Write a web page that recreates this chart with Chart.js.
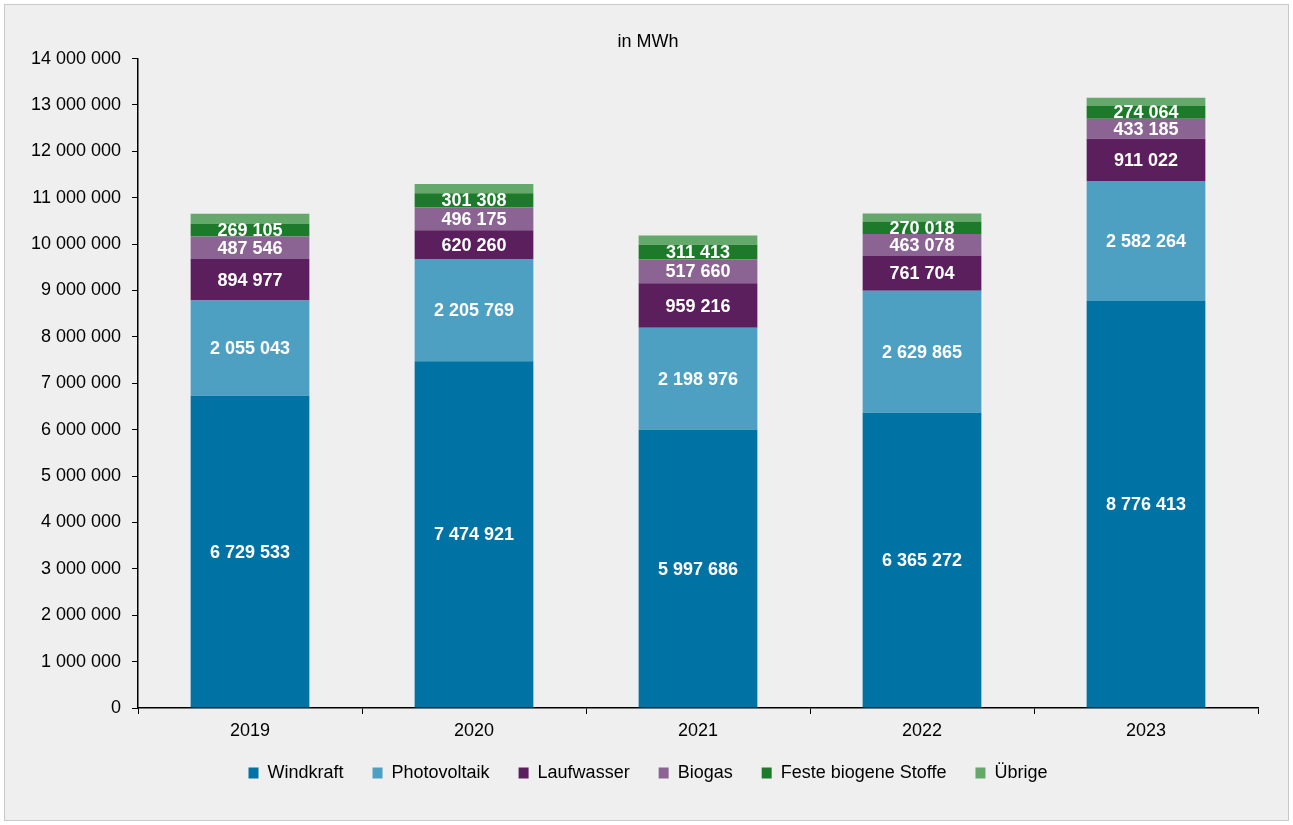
<!DOCTYPE html>
<html lang="de">
<head>
  <meta charset="UTF-8">
  <title>Stromerzeugung aus erneuerbaren Energien</title>
  <script src="https://cdn.jsdelivr.net/npm/chart.js"></script>
  <style>
    body {
      margin: 0;
      background: #ffffff;
      font-family: "Liberation Sans", Arial, sans-serif;
    }
    #rahmen {
      position: absolute;
      left: 4px;
      top: 4px;
      width: 1283px;
      height: 815px;
      background: #efefef;
      border: 1px solid #c9c9c9;
    }
  </style>
</head>
<body>

<div id="rahmen"><canvas id="grafik" width="1283" height="815"></canvas></div>

<script>
const jahre = ['2019', '2020', '2021', '2022', '2023'];
const windkraft = [6729533, 7474921, 5997686, 6365272, 8776413];
const photovoltaik = [2055043, 2205769, 2198976, 2629865, 2582264];
const laufwasser = [894977, 620260, 959216, 761704, 911022];
const biogas = [487546, 496175, 517660, 463078, 433185];
const festeBiogene = [269105, 301308, 311413, 270018, 274064];
const uebrige = [220000, 200000, 200000, 170000, 180000];

const schrift = '"Liberation Sans", Arial, sans-serif';

function zahl(v) {
  return String(Math.round(v)).replace(/\B(?=(\d{3})+(?!\d))/g, ' ');
}

// Werte in die Balken schreiben (weiss, fett)
const balkenWerte = {
  id: 'balkenWerte',
  afterDatasetsDraw(chart) {
    const ctx = chart.ctx;
    ctx.save();
    ctx.font = 'bold 18px ' + schrift;
    ctx.fillStyle = '#ffffff';
    ctx.textAlign = 'center';
    ctx.textBaseline = 'middle';
    chart.data.datasets.forEach((ds, i) => {
      if (ds.ohneWert) return;
      chart.getDatasetMeta(i).data.forEach((bar, j) => {
        const mitte = (bar.y + bar.base) / 2;
        ctx.fillText(zahl(ds.data[j]), bar.x, mitte + 1);
      });
    });
    ctx.restore();
  }
};

// Achsenbeschriftung nicht auf die Achsenbox beschneiden
function ohneClip(scale) {
  scale._computeLabelArea = () => undefined;
}

const ctx = document.getElementById('grafik').getContext('2d');
new Chart(ctx, {
  type: 'bar',
  data: {
    labels: jahre,
    datasets: [
      { label: 'Windkraft', data: windkraft, backgroundColor: '#0072a3' },
      { label: 'Photovoltaik', data: photovoltaik, backgroundColor: '#4ea0c2' },
      { label: 'Laufwasser', data: laufwasser, backgroundColor: '#5b1f5e' },
      { label: 'Biogas', data: biogas, backgroundColor: '#8b6494' },
      { label: 'Feste biogene Stoffe', data: festeBiogene, backgroundColor: '#1d7a2a' },
      { label: 'Übrige', data: uebrige, backgroundColor: '#64a86c', ohneWert: true }
    ]
  },
  options: {
    responsive: false,
    animation: false,
    barPercentage: 0.53,
    categoryPercentage: 1,
    layout: { padding: { left: 33, right: 30, top: 0, bottom: 28 } },
    scales: {
      x: {
        stacked: true,
        border: { color: '#000000', width: 1.5 },
        grid: { display: true, drawOnChartArea: false, drawTicks: true, tickLength: 6, color: '#000000', offset: true },
        ticks: { color: '#000000', font: { size: 18, family: schrift }, padding: 6 },
        afterFit(scale) { scale.height = 27; ohneClip(scale); }
      },
      y: {
        stacked: true,
        min: 0,
        max: 14000000,
        border: { color: '#000000', width: 1.5 },
        grid: { display: true, drawOnChartArea: false, drawTicks: true, tickLength: 6, color: '#000000' },
        ticks: {
          stepSize: 1000000,
          color: '#000000',
          font: { size: 18, family: schrift },
          padding: 11,
          callback: v => zahl(v)
        },
        afterFit(scale) { scale.width = 100; ohneClip(scale); }
      }
    },
    plugins: {
      title: {
        display: true,
        text: 'in MWh',
        color: '#000000',
        font: { size: 18, weight: 'normal', family: schrift },
        padding: { top: 26, bottom: 6 }
      },
      legend: {
        position: 'bottom',
        labels: {
          color: '#000000',
          boxWidth: 10,
          boxHeight: 11,
          padding: 29,
          font: { size: 18, family: schrift }
        }
      },
      tooltip: { enabled: false }
    }
  },
  plugins: [balkenWerte]
});
</script>

</body>
</html>
